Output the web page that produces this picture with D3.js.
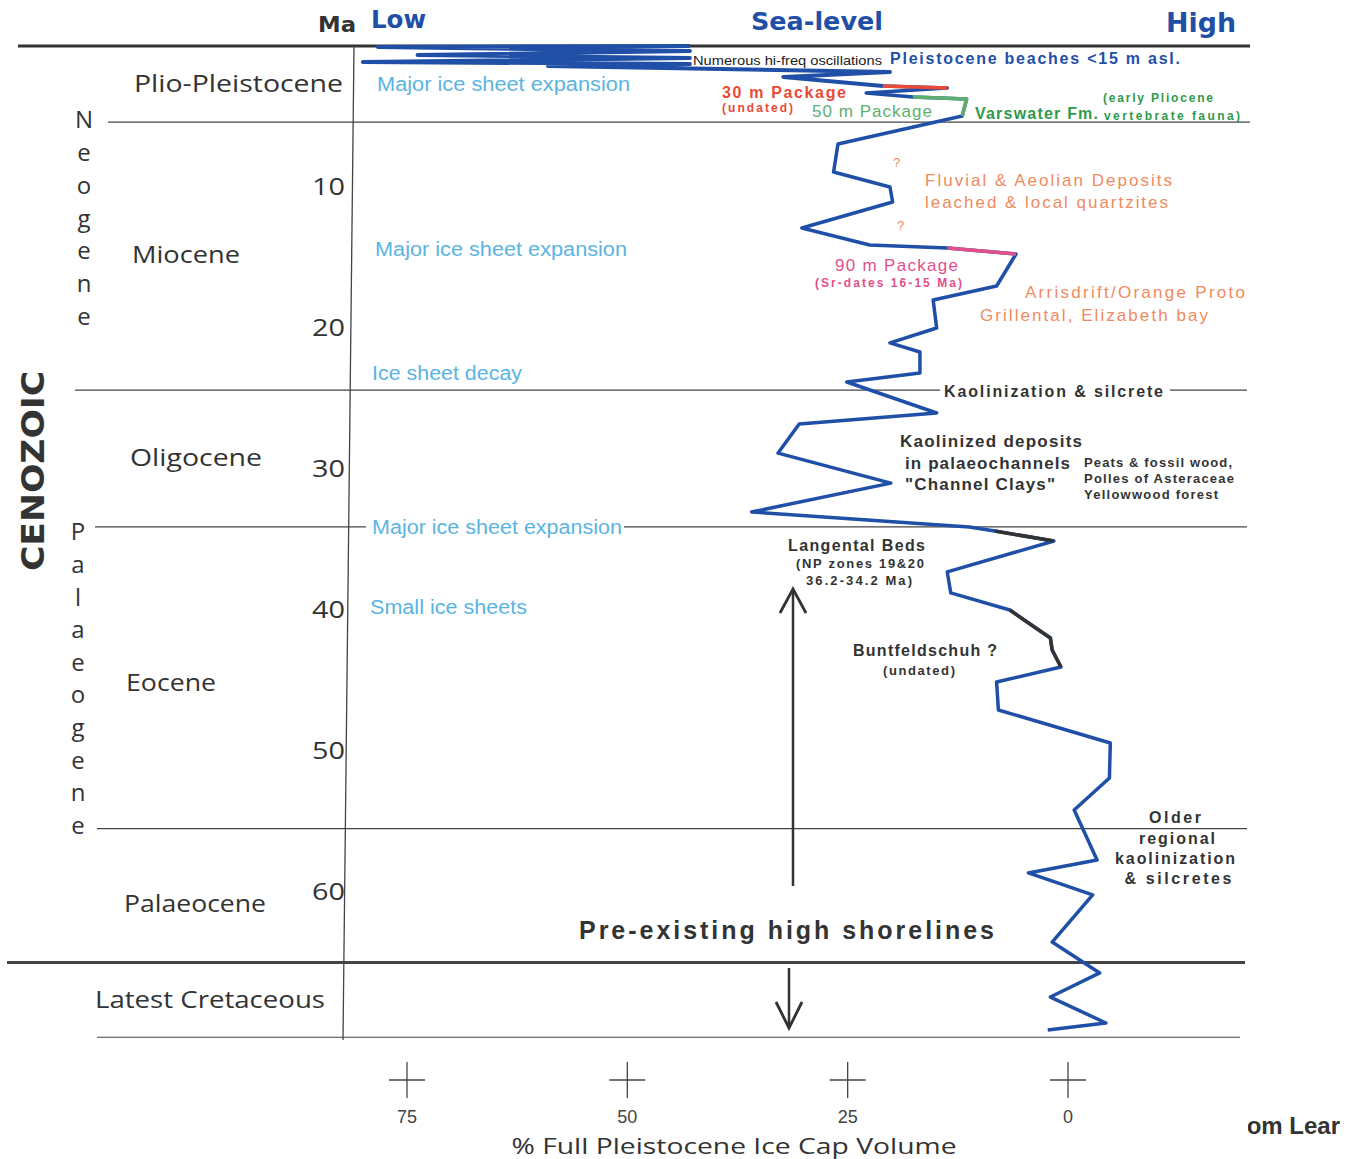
<!DOCTYPE html>
<html><head><meta charset="utf-8">
<script src="https://cdn.jsdelivr.net/npm/d3@7"></script>
<style>html,body{margin:0;padding:0;background:#fff;} svg{display:block}</style>
</head><body><svg id="c" width="1356" height="1159"></svg>
<script>
// ---------- DATA ----------
const ages = [0.00,0.07,0.35,0.64,0.85,1.13,1.28,1.42,1.84,2.20,
  2.84,2.98,3.33,3.62,3.76,4.96,6.95,8.94,10.0,11.06,
  12.91,14.11,14.33,14.75,17.02,18.01,20.0,21.06,21.7,23.19,
  23.83,26.03,26.81,28.87,31.0,33.05,34.11,34.4,35.11,37.3,
  38.79,40.0,41.99,42.84,44.04,45.11,47.09,49.43,51.91,54.18,
  57.73,58.65,60.21,63.55,65.74,67.45,69.29,69.79];
const iceVolume = [42.9,78.3,42.9,73.8,42.9,80.0,42.9,59.0,20.2,32.3,
  21.0,13.7,22.9,17.6,11.5,12.0,26.1,26.6,20.2,19.9,
  30.2,22.5,13.7,5.9,8.1,15.3,14.9,20.2,16.8,16.8,
  25.1,14.9,30.5,32.9,20.1,35.9,11.2,8.3,1.6,13.7,
  13.3,6.6,2.0,1.8,0.8,8.1,7.9,-4.8,-4.7,-0.7,
  -3.3,4.5,-2.8,1.8,-3.6,2.0,-4.3,2.3];
const highlightNames = ["30 m Package","50 m Package","90 m Package","Langental Beds","Buntfeldschuh"];
const highlightFrom = [10,13,22,37,41];
const highlightTo   = [11,15,23,38,44];
const ageTicks = [10,20,30,40,50,60];
const iceTicks = [75,50,25,0];
const periodBoundaries = [5.4,24.4,34.1,55.5,65.0,70.3];
const periods = ["Plio-Pleistocene","Miocene","Oligocene","Eocene","Palaeocene","Latest Cretaceous"];

// ---------- STYLES / LAYOUT ----------
const BLUE = "#1f4fa6", CYAN = "#5ab4e2", ORANGE = "#ef8a5e", INK = "#333";
const highlightColors = ["#ea4a36","#5daf6e","#e2508a","#333","#333"];

const svg = d3.select("#c");
const x = d3.scaleLinear().domain([0,75]).range([1068,407]);
const y = d3.scaleLinear().domain([0,70]).range([46,1033]);

function txt(t, px, py, o){
  const el = svg.append("text").attr("x",px).attr("y",py).attr("dy","0.35em").text(t)
    .attr("font-family", o.f || "Liberation Sans")
    .attr("font-size", o.s).attr("font-weight", o.w || 400)
    .attr("fill", o.c || INK).attr("text-anchor", o.a || "start");
  if (o.L) el.attr("textLength", o.L).attr("lengthAdjust", o.adj || "spacingAndGlyphs");
  return el;
}
function line(x1,y1,x2,y2,w,c){
  svg.append("line").attr("x1",x1).attr("y1",y1).attr("x2",x2).attr("y2",y2)
    .attr("stroke",c||INK).attr("stroke-width",w||1);
}

// top border
line(18,y(0),1250,y(0),3,"#333");
// boundaries
const boundarySegs = [[[108,1250]],[[75,940],[1170,1247]],[[95,366],[624,1247]],[[97,1247]],[[7,1245]],[[97,1240]]];
const boundaryW = [1.2,1.2,1.2,1.2,3,1.2];
periodBoundaries.forEach((a,i)=>{
  boundarySegs[i].forEach(s=>line(s[0],y(a),s[1],y(a),boundaryW[i],"#444"));
});
// vertical axis
line(354,y(0),343,1040,1.3,"#444");

// header
txt("Ma",318,24,{s:22,w:700,f:"DejaVu Sans",L:38,c:INK});
txt("Low",371,20,{s:24,w:700,f:"DejaVu Sans",L:55,c:BLUE});
txt("Sea-level",751,22,{s:24,w:700,f:"DejaVu Sans",L:132,c:BLUE});
txt("High",1166,23,{s:26,w:700,f:"DejaVu Sans",L:70,c:BLUE});

// period labels
const periodX = [134,132,130,126,124,95], periodY=[84,255,458,683,904,1000], periodW=[209,108,132,90,142,230];
periods.forEach((p,i)=>txt(p,periodX[i],periodY[i],{s:24,f:"Open Sans",L:periodW[i],c:INK}));

// age tick labels
ageTicks.forEach(a=>txt(String(a),345,y(a),{s:24,f:"Open Sans",a:"end",L:33,c:INK}));

// stacked Neogene / Palaeogene
"Neogene".split("").forEach((ch,i)=>txt(ch,84,120+i*32.7,{s:24,f:"Open Sans",a:"middle",c:INK}));
"Palaeogene".split("").forEach((ch,i)=>txt(ch,78,532+i*32.6,{s:24,f:"Open Sans",a:"middle",c:INK}));
// CENOZOIC
svg.append("text").attr("transform","translate(33,471) rotate(-90)").attr("dy","0.35em")
  .attr("text-anchor","middle").attr("font-family","DejaVu Sans").attr("font-weight",700)
  .attr("font-size",32).attr("fill",INK).attr("textLength",200).attr("lengthAdjust","spacingAndGlyphs")
  .text("CENOZOIC");

// cyan ice annotations
txt("Major ice sheet expansion",377,84,{s:20,c:CYAN,L:253});
txt("Major ice sheet expansion",375,249,{s:20,c:CYAN,L:252});
txt("Ice sheet decay",372,373,{s:20,c:CYAN,L:150});
txt("Major ice sheet expansion",372,527,{s:20,c:CYAN,L:250});
txt("Small ice sheets",370,607,{s:20,c:CYAN,L:157});

// sea-level curve
const pts = ages.map((a,i)=>({age:a, ice:iceVolume[i]}));
const gen = d3.line().x(d=>x(d.ice)).y(d=>y(d.age));
svg.append("path").attr("d",gen(pts.slice(0,11))).attr("fill","none").attr("stroke",BLUE)
  .attr("stroke-width",4).attr("stroke-linejoin","round");
svg.append("path").attr("d",gen(pts.slice(10))).attr("fill","none").attr("stroke",BLUE)
  .attr("stroke-width",3.5).attr("stroke-linejoin","round");
highlightNames.forEach((n,i)=>{
  svg.append("path").attr("d",gen(pts.slice(highlightFrom[i],highlightTo[i]+1)))
    .attr("fill","none").attr("stroke",highlightColors[i]).attr("stroke-width",3.5)
    .attr("stroke-linejoin","round");
});

// right annotations
txt("Numerous hi-freq oscillations",693,60,{s:13,c:"#222",L:189});
txt("Pleistocene beaches <15 m asl.",890,58,{s:16,w:700,c:BLUE,L:290,adj:"spacing"});
txt("30 m Package",722,92,{s:16,w:700,c:"#ea4a36",L:124,adj:"spacing"});
txt("(undated)",722,108,{s:12,w:700,c:"#ea4a36",L:71,adj:"spacing"});
txt("50 m Package",812,111,{s:17,c:"#5daf6e",L:120,adj:"spacing"});
txt("Varswater Fm.",975,113,{s:16,w:700,c:"#2f9a4c",L:123,adj:"spacing"});
txt("(early Pliocene",1103,98,{s:12,w:700,c:"#2f9a4c",L:110,adj:"spacing"});
txt("vertebrate fauna)",1104,116,{s:12,w:700,c:"#2f9a4c",L:136,adj:"spacing"});
txt("?",893,162,{s:13,c:ORANGE});
txt("?",897,225,{s:13,c:ORANGE});
txt("Fluvial & Aeolian Deposits",925,180,{s:17,c:ORANGE,L:247,adj:"spacing"});
txt("leached & local quartzites",925,202,{s:17,c:ORANGE,L:243,adj:"spacing"});
txt("90 m Package",835,265,{s:17,c:"#e2508a",L:123,adj:"spacing"});
txt("(Sr-dates 16-15 Ma)",815,283,{s:12,w:700,c:"#e2508a",L:147,adj:"spacing"});
txt("Arrisdrift/Orange Proto",1025,292,{s:17,c:ORANGE,L:220,adj:"spacing"});
txt("Grillental, Elizabeth bay",980,315,{s:17,c:ORANGE,L:228,adj:"spacing"});
txt("Kaolinization & silcrete",944,391,{s:16,w:700,c:INK,L:219,adj:"spacing"});
txt("Kaolinized deposits",900,441,{s:17,w:700,c:INK,L:182,adj:"spacing"});
txt("in palaeochannels",905,463,{s:17,w:700,c:INK,L:165,adj:"spacing"});
txt("\"Channel Clays\"",905,484,{s:17,w:700,c:INK,L:150,adj:"spacing"});
txt("Peats & fossil wood,",1084,462,{s:13,w:700,c:INK,L:148,adj:"spacing"});
txt("Polles of Asteraceae",1084,478,{s:13,w:700,c:INK,L:150,adj:"spacing"});
txt("Yellowwood forest",1084,494,{s:13,w:700,c:INK,L:134,adj:"spacing"});
txt("Langental Beds",788,545,{s:16,w:700,c:INK,L:137,adj:"spacing"});
txt("(NP zones 19&20",796,563,{s:13,w:700,c:INK,L:128,adj:"spacing"});
txt("36.2-34.2 Ma)",806,580,{s:13,w:700,c:INK,L:106,adj:"spacing"});
txt("Buntfeldschuh ?",853,650,{s:16,w:700,c:INK,L:144,adj:"spacing"});
txt("(undated)",883,670,{s:13,w:700,c:INK,L:72,adj:"spacing"});
txt("Older",1175,817,{s:16,w:700,c:INK,a:"middle",L:52,adj:"spacing"});
txt("regional",1177,838,{s:16,w:700,c:INK,a:"middle",L:76,adj:"spacing"});
txt("kaolinization",1175,858,{s:16,w:700,c:INK,a:"middle",L:120,adj:"spacing"});
txt("& silcretes",1178,878,{s:16,w:700,c:INK,a:"middle",L:107,adj:"spacing"});
txt("Pre-existing high shorelines",579,930,{s:25,w:700,c:INK,L:415,adj:"spacing"});

// arrows
line(793,886,793,589,2.5,"#333");
svg.append("path").attr("d","M780,613L793,589L806,613").attr("fill","none").attr("stroke","#333").attr("stroke-width",2.8);
line(789,968,789,1028,2.5,"#333");
svg.append("path").attr("d","M776,1002L789,1028L802,1002").attr("fill","none").attr("stroke","#333").attr("stroke-width",2.8);

// bottom axis (crosses)
iceTicks.forEach(v=>{
  line(x(v),1062,x(v),1098,1.3,"#444");
  line(x(v)-18,1080,x(v)+18,1080,1.3,"#444");
  txt(String(v),x(v),1117,{s:18,a:"middle",c:"#444"});
});
txt("% Full Pleistocene Ice Cap Volume",734,1146,{s:22,f:"Open Sans",a:"middle",c:INK,L:445});

// clipped credit
svg.append("clipPath").attr("id","cr").append("rect").attr("x",1248).attr("y",1100).attr("width",110).attr("height",50);
txt("From Lear",1340,1126,{s:24,w:700,a:"end",c:INK}).attr("clip-path","url(#cr)");
</script></body></html>
